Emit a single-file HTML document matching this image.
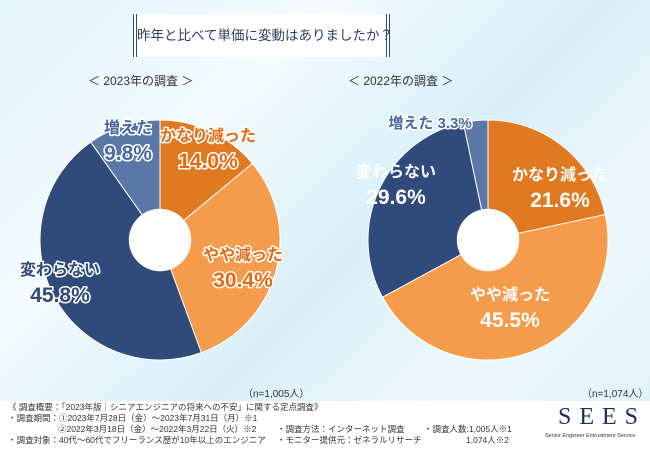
<!DOCTYPE html>
<html><head><meta charset="utf-8"><style>
body{margin:0;width:650px;height:450px;overflow:hidden;font-family:"Liberation Sans","Noto Sans CJK JP",sans-serif;}
#bg{position:absolute;left:0;top:0;width:650px;height:450px;background:linear-gradient(135deg,#e2f3fa 0%,#f3fbfe 30%,#d8eff8 55%,#eef8fc 75%,#dff1f8 100%);}
.t{position:absolute;white-space:nowrap;}
</style></head><body>
<div id="bg"></div>
<div style="position:absolute;left:133px;top:14px;width:257px;height:43px;background:#fff;border-left:4px double #2e4a7a;border-right:4px double #2e4a7a;box-sizing:border-box;text-align:center;line-height:43px;font-size:13.5px;white-space:nowrap;color:#2e3e5e;">昨年と比べて単価に変動はありましたか？</div>
<div class="t" style="left:88px;top:72px;font-size:12px;color:#333;">＜ 2023年の調査 ＞</div>
<div class="t" style="left:348px;top:72px;font-size:12px;color:#333;">＜ 2022年の調査 ＞</div>
<svg id="chart" width="650" height="450" style="position:absolute;left:0;top:0"></svg>
<div class="t" style="left:243px;top:385px;font-size:10px;color:#333;">（n=1,005人）</div>
<div class="t" style="left:582px;top:385px;font-size:10px;color:#333;">（n=1,074人）</div>
<div style="position:absolute;left:0;top:401px;width:650px;height:49px;background:#fff;font-size:8.5px;color:#333;line-height:11px;">
<div class="t" style="left:8px;top:1px;">《 調査概要：「2023年版｜シニアエンジニアの将来への不安」に関する定点調査》</div>
<div class="t" style="left:8px;top:12px;">・調査期間：①2023年7月28日（金）～2023年7月31日（月）※1</div>
<div class="t" style="left:58px;top:23px;">②2022年3月18日（金）～2022年3月22日（火）※2</div>
<div class="t" style="left:8px;top:34px;">・調査対象：40代～60代でフリーランス歴が10年以上のエンジニア</div>
<div class="t" style="left:277px;top:23px;">・調査方法：インターネット調査</div>
<div class="t" style="left:277px;top:34px;">・モニター提供元：ゼネラルリサーチ</div>
<div class="t" style="left:424px;top:23px;">・調査人数:1,005人※1</div>
<div class="t" style="left:466px;top:34px;">1,074人※2</div>
<div class="t" style="left:558px;top:4px;font-family:'Liberation Serif',serif;font-size:24px;letter-spacing:8px;color:#1e2f55;line-height:24px;">SEES</div>
<div class="t" style="left:545px;top:30px;font-size:5.5px;color:#333;">Senior Engineer Entrustment Service</div>
</div>
<script>
const categories=["かなり減った","やや減った","変わらない","増えた"];
const values2023=[14.0,30.4,45.8,9.8];
const values2022=[21.6,45.5,29.6,3.3];
const colors=["#e07a22","#f59b4c","#2f4a7b","#5a77a8"];
const NS="http://www.w3.org/2000/svg";
const svg=document.getElementById('chart');
function mkText(x,y,fill,size,outline,str){
  const t=document.createElementNS(NS,'text');
  t.setAttribute('x',x);t.setAttribute('y',y);t.setAttribute('text-anchor','middle');
  t.setAttribute('fill',fill);t.setAttribute('font-size',size);t.setAttribute('font-weight','bold');
  t.setAttribute('font-family','"Liberation Sans","Noto Sans CJK JP",sans-serif');
  if(outline){t.setAttribute('stroke','#fff');t.setAttribute('stroke-width','3');t.setAttribute('paint-order','stroke');t.setAttribute('stroke-linejoin','round');}
  t.textContent=str;return t;
}
function pie(cx,cy,r,vals,name,labels){
  const tot=vals.reduce((a,b)=>a+b,0);let a0=0;
  vals.forEach((v,i)=>{
    const a1=a0+v/tot*2*Math.PI;
    const x0=cx+r*Math.sin(a0),y0=cy-r*Math.cos(a0),x1=cx+r*Math.sin(a1),y1=cy-r*Math.cos(a1);
    const p=document.createElementNS(NS,'path');
    p.setAttribute('d',`M${cx},${cy}L${x0},${y0}A${r},${r} 0 ${a1-a0>Math.PI?1:0} 1 ${x1},${y1}Z`);
    p.setAttribute('fill',colors[i]);p.setAttribute('stroke','#fff');p.setAttribute('stroke-width','1');
    
    
    svg.appendChild(p);
    a0=a1;
  });
  const h=document.createElementNS(NS,'circle');
  h.setAttribute('cx',cx);h.setAttribute('cy',cy);h.setAttribute('r',r*0.26);h.setAttribute('fill','#fff');
  
  
  svg.appendChild(h);
  vals.forEach((v,i)=>{
    const L=labels[i];
    if(L[3]){
      const t=mkText(L[0],L[1],L[2],16,L[4],categories[i]);
      
      
      svg.appendChild(t);
      const t2=mkText(L[0],L[1]+27,L[2],21,L[4],v.toFixed(1)+'%');
      
      
      svg.appendChild(t2);
    } else {
      const t=mkText(L[0],L[1],L[2],15,L[4],categories[i]+' '+v.toFixed(1)+'%');
      
      
      svg.appendChild(t);
    }
  });
}
pie(160,240,120,values2023,'pie-2023',[[208,141,'#e56a10',1,1],[243,260,'#e56a10',1,1],[60,275,'#2f4a7b',1,1],[128,133,'#4a6aa0',1,1]]);
pie(488,240,120,values2022,'pie-2022',[[560,180,'#fff',1,0],[510,300,'#fff',1,0],[396,177,'#fff',1,0],[430,128,'#4a6aa0',0,1]]);
</script>
</body></html>
